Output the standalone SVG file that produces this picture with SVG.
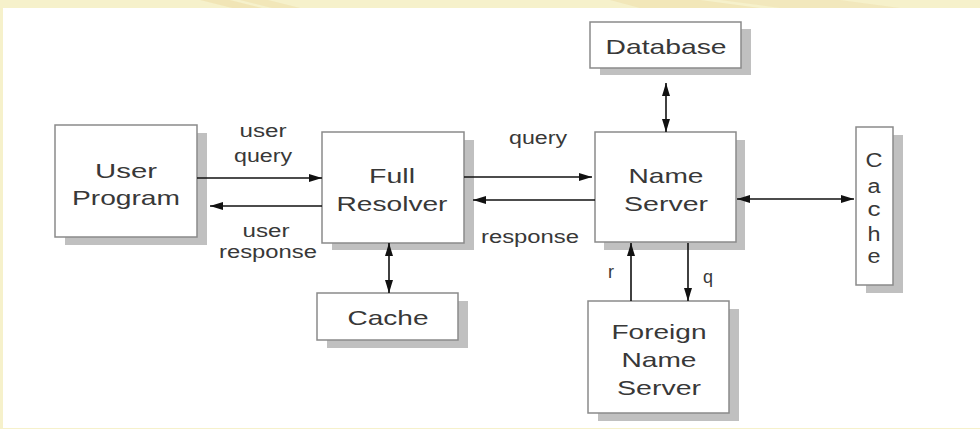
<svg xmlns="http://www.w3.org/2000/svg" width="980" height="429" viewBox="0 0 980 429">
<style>
.bg{fill:#F6F1CB}
.shadow{fill:#C0C0C0}
.box{fill:#FFFFFF;stroke:#8A8A8A;stroke-width:1.5}
.t{font-family:"Liberation Sans",Arial,sans-serif;font-size:21px;fill:#383838;text-anchor:middle}
.l{font-family:"Liberation Sans",Arial,sans-serif;font-size:18px;fill:#383838;text-anchor:middle}
.v{font-family:"Liberation Sans",Arial,sans-serif;font-size:20px;fill:#383838;text-anchor:middle}
.c{stroke:#111111;stroke-width:1.6;fill:none}
</style>
<defs>
<marker id="ah" markerWidth="13" markerHeight="8" refX="13" refY="4" orient="auto-start-reverse" markerUnits="userSpaceOnUse">
<path d="M0,0 L13,4 L0,8 z" fill="#111111"/>
</marker>
</defs>
<rect class="bg" x="0" y="0" width="980" height="429"/>
<polygon points="200,0 230,0 262,8 232,8" fill="#EEDDA8" opacity="0.6"/>
<polygon points="240,0 268,0 300,8 272,8" fill="#EEDDA8" opacity="0.5"/>
<polygon points="610,0 700,0 760,8 640,8" fill="#EEDDA8" opacity="0.5"/>
<polygon points="720,0 840,0 900,8 780,8" fill="#EEDDA8" opacity="0.4"/>
<rect x="3" y="8" width="977" height="420" fill="#FFFFFF"/>

<g id="user-program">
<rect class="shadow" x="65" y="133" width="142" height="112"/>
<rect class="box" x="55" y="125" width="142" height="112"/>
<text class="t" x="126" y="178" textLength="62" lengthAdjust="spacingAndGlyphs">User</text>
<text class="t" x="126" y="205" textLength="108" lengthAdjust="spacingAndGlyphs">Program</text>
</g>

<g id="full-resolver">
<rect class="shadow" x="332" y="140" width="142" height="110"/>
<rect class="box" x="322" y="132" width="142" height="111"/>
<text class="t" x="392" y="183" textLength="46" lengthAdjust="spacingAndGlyphs">Full</text>
<text class="t" x="392" y="211" textLength="111" lengthAdjust="spacingAndGlyphs">Resolver</text>
</g>

<g id="name-server">
<rect class="shadow" x="604" y="140" width="141" height="110"/>
<rect class="box" x="595" y="132" width="141" height="110"/>
<text class="t" x="666" y="183" textLength="75" lengthAdjust="spacingAndGlyphs">Name</text>
<text class="t" x="666" y="211" textLength="84" lengthAdjust="spacingAndGlyphs">Server</text>
</g>

<g id="database">
<rect class="shadow" x="600" y="29" width="151" height="46"/>
<rect class="box" x="590" y="22" width="151" height="46"/>
<text class="t" x="666" y="54" textLength="121" lengthAdjust="spacingAndGlyphs">Database</text>
</g>

<g id="cache-right">
<rect class="shadow" x="866" y="135" width="37" height="158"/>
<rect class="box" x="856" y="127" width="37" height="158"/>
<text class="v" x="874" y="167" textLength="17" lengthAdjust="spacingAndGlyphs">C</text>
<text class="v" x="874" y="193" textLength="13" lengthAdjust="spacingAndGlyphs">a</text>
<text class="v" x="874" y="216" textLength="13" lengthAdjust="spacingAndGlyphs">c</text>
<text class="v" x="874" y="241" textLength="13" lengthAdjust="spacingAndGlyphs">h</text>
<text class="v" x="874" y="263" textLength="13" lengthAdjust="spacingAndGlyphs">e</text>
</g>

<g id="foreign-name-server">
<rect class="shadow" x="598" y="309" width="141" height="112"/>
<rect class="box" x="588" y="301" width="141" height="112"/>
<text class="t" x="659" y="339" textLength="95" lengthAdjust="spacingAndGlyphs">Foreign</text>
<text class="t" x="659" y="367" textLength="75" lengthAdjust="spacingAndGlyphs">Name</text>
<text class="t" x="659" y="395" textLength="84" lengthAdjust="spacingAndGlyphs">Server</text>
</g>

<g id="cache-bottom">
<rect class="shadow" x="327" y="301" width="141" height="47"/>
<rect class="box" x="317" y="293" width="141" height="47"/>
<text class="t" x="388" y="325" textLength="81" lengthAdjust="spacingAndGlyphs">Cache</text>
</g>

<g id="connectors">
<path class="c" d="M197,178 H322" marker-end="url(#ah)"/>
<path class="c" d="M322,206 H210" marker-end="url(#ah)"/>
<path class="c" d="M464,177 H592" marker-end="url(#ah)"/>
<path class="c" d="M595,200 H473" marker-end="url(#ah)"/>
<path class="c" d="M666,83 V132" marker-start="url(#ah)" marker-end="url(#ah)"/>
<path class="c" d="M737,199 H854" marker-start="url(#ah)" marker-end="url(#ah)"/>
<path class="c" d="M631,301 V243" marker-end="url(#ah)"/>
<path class="c" d="M688,243 V301" marker-end="url(#ah)"/>
<path class="c" d="M389,243 V293" marker-start="url(#ah)" marker-end="url(#ah)"/>
</g>

<g id="labels">
<text class="l" x="263" y="137" textLength="47" lengthAdjust="spacingAndGlyphs">user</text>
<text class="l" x="263" y="162" textLength="58" lengthAdjust="spacingAndGlyphs">query</text>
<text class="l" x="266" y="237" textLength="47" lengthAdjust="spacingAndGlyphs">user</text>
<text class="l" x="268" y="258" textLength="98" lengthAdjust="spacingAndGlyphs">response</text>
<text class="l" x="538" y="144" textLength="58" lengthAdjust="spacingAndGlyphs">query</text>
<text class="l" x="530" y="243" textLength="98" lengthAdjust="spacingAndGlyphs">response</text>
<text class="l" x="611" y="278">r</text>
<text class="l" x="708" y="283">q</text>
</g>
</svg>
